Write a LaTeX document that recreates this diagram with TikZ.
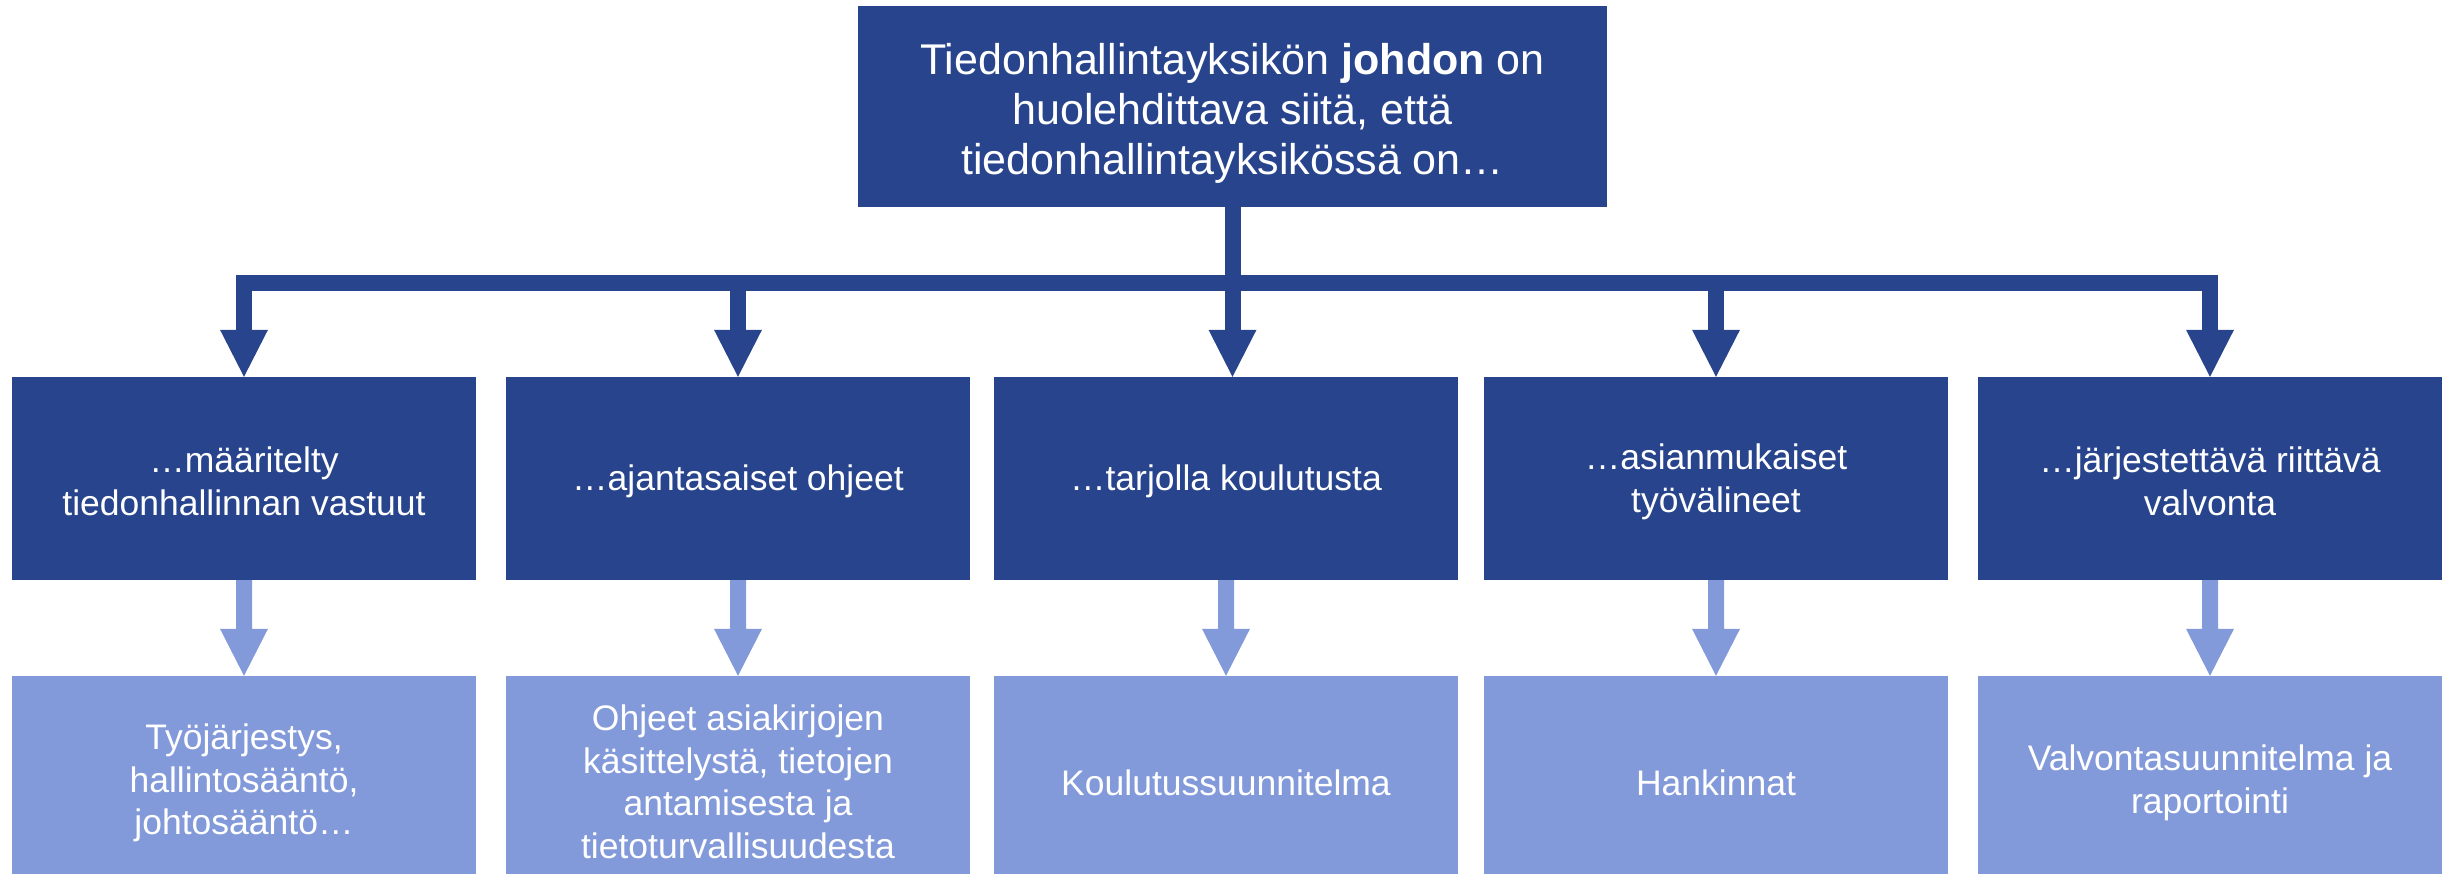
\documentclass[tikz,border=0pt]{standalone}
\usepackage{fontspec}
\setmainfont{Liberation Sans}
\usetikzlibrary{calc}
\definecolor{darkc}{RGB}{40,68,140}
\definecolor{lightc}{RGB}{131,154,218}
\tikzset{
  topbox/.style={rectangle, fill=darkc, text=white, inner sep=0pt, align=center,
    minimum width=749pt, minimum height=201pt, font=\fontsize{43}{50}\selectfont},
  midbox/.style={rectangle, fill=darkc, text=white, inner sep=0pt, align=center,
    minimum width=464pt, minimum height=203pt, font=\fontsize{35.5}{43}\selectfont},
  lowbox/.style={rectangle, fill=lightc, text=white, inner sep=0pt, align=center,
    minimum width=464pt, minimum height=198pt, font=\fontsize{35.5}{42.5}\selectfont},
  boxtext/.style={text=white, inner sep=0pt, align=center},
  darkline/.style={draw=darkc, line width=16pt},
  darkhead/.style={fill=darkc},
  lightarrow/.style={fill=lightc}
}
\begin{document}
\begin{tikzpicture}[x=1pt,y=-1pt]
\useasboundingbox (0,0) rectangle (2447,874);
% top box
\node[topbox] (top) at (1232.5,106.5) {};
\node[boxtext, font=\fontsize{43}{50}\selectfont] (toptext) at ($(top.center)+(0,7)$) {Tiedonhallintayksikön \textbf{johdon} on\\huolehdittava siitä, että\\tiedonhallintayksikössä on…};
% middle row
\node[midbox] (b1) at (244,478.5) {};
\node[midbox] (b2) at (738,478.5) {};
\node[midbox] (b3) at (1226,478.5) {};
\node[midbox] (b4) at (1716,478.5) {};
\node[midbox] (b5) at (2210,478.5) {};
\tikzset{midtext/.style={boxtext, font=\fontsize{35.5}{43}\selectfont}}
\node[midtext] (tb1) at ($(b1.center)+(0,3)$) {…määritelty\\tiedonhallinnan vastuut};
\node[midtext] (tb2) at ($(b2.center)+(0,3)$) {…ajantasaiset ohjeet};
\node[midtext] (tb3) at ($(b3.center)+(0,3)$) {…tarjolla koulutusta};
\node[midtext] (tb4) at ($(b4.center)+(0,3)$) {…asianmukaiset\\työvälineet};
\node[midtext] (tb5) at ($(b5.center)+(0,3)$) {…järjestettävä riittävä\\valvonta};
% bottom row
\node[lowbox] (c1) at (244,775) {};
\node[lowbox] (c2) at (738,775) {};
\node[lowbox] (c3) at (1226,775) {};
\node[lowbox] (c4) at (1716,775) {};
\node[lowbox] (c5) at (2210,775) {};
\tikzset{lowtext/.style={boxtext, font=\fontsize{35.5}{42.5}\selectfont}}
\node[lowtext] (tc1) at ($(c1.center)+(0,8)$) {Työjärjestys,\\hallintosääntö,\\johtosääntö…};
\node[lowtext] (tc2) at ($(c2.center)+(0,7)$) {Ohjeet asiakirjojen\\käsittelystä, tietojen\\antamisesta ja\\tietoturvallisuudesta};
\node[lowtext] (tc3) at ($(c3.center)+(0,8)$) {Koulutussuunnitelma};
\node[lowtext] (tc4) at ($(c4.center)+(0,8)$) {Hankinnat};
\node[lowtext] (tc5) at ($(c5.center)+(0,8)$) {Valvontasuunnitelma ja\\raportointi};
% tree connector
\coordinate (bar) at ($(top.south)+(0,76)$);
\coordinate (t3) at (top.south |- b3.north);
\draw[darkline] (top.south) -- (bar);
\draw[darkline, line cap=rect] (b1.north |- bar) -- (b5.north |- bar);
\foreach \t in {b1.north,t3,b2.north,b4.north,b5.north}{
  \draw[darkline] (\t |- bar) -- ($(\t)+(0,-47)$);
  \fill[darkhead] ($(\t)+(-24,-47)$) -- (\t) -- ($(\t)+(24,-47)$) -- cycle;
}
% light arrows
\foreach \i in {1,...,5}{
  \fill[lightarrow] ($(b\i.south)+(-8,0)$) -- ($(c\i.north)+(-8,-47)$) -- ($(c\i.north)+(-24,-47)$)
    -- (c\i.north) -- ($(c\i.north)+(24,-47)$) -- ($(c\i.north)+(8,-47)$) -- ($(b\i.south)+(8,0)$) -- cycle;
}
\end{tikzpicture}
\end{document}
